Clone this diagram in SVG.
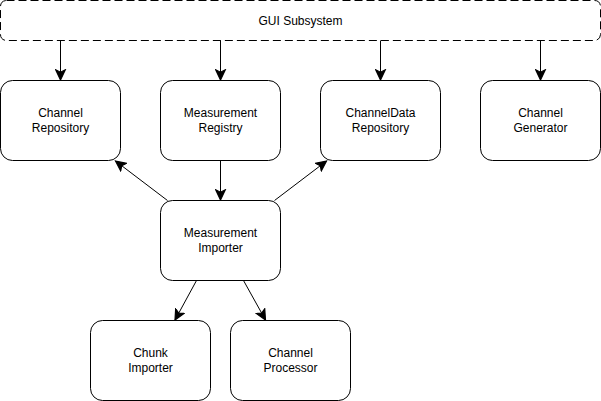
<svg xmlns="http://www.w3.org/2000/svg" width="601" height="401" viewBox="0 0 601 401">
<defs>
<marker id="arr" markerUnits="userSpaceOnUse" markerWidth="12" markerHeight="12" viewBox="0 0 10 9" refX="9" refY="4.5" orient="auto">
<path d="M9,4.5 L0.5,0.5 L2.5,4.5 L0.5,8.5 Z" fill="#000" stroke="#000" stroke-width="1"/>
</marker>
</defs>
<style>
.box{fill:#fff;stroke:#000;stroke-width:1}
.gui{fill:#fff;stroke:#000;stroke-width:1;stroke-dasharray:8 4}
.t{font-family:"Liberation Sans",Arial,Helvetica,sans-serif;font-size:12px;fill:#000;text-anchor:middle}
.c{fill:none;stroke:#000;stroke-width:1;marker-end:url(#arr)}
</style>
<rect width="601" height="401" fill="#fff"/>
<g id="gui">
<rect class="gui" x="0.5" y="0.5" width="600" height="40" rx="6" ry="6"/>
<text class="t" x="300.5" y="24.5">GUI Subsystem</text>
</g>
<g id="channel-repository">
<rect class="box" x="0.5" y="80.5" width="120" height="80" rx="12" ry="12"/>
<text class="t" x="60.5" y="117">Channel</text>
<text class="t" x="60.5" y="131.5">Repository</text>
</g>
<g id="measurement-registry">
<rect class="box" x="160.5" y="80.5" width="120" height="80" rx="12" ry="12"/>
<text class="t" x="220.5" y="117">Measurement</text>
<text class="t" x="220.5" y="131.5">Registry</text>
</g>
<g id="channeldata-repository">
<rect class="box" x="320.5" y="80.5" width="120" height="80" rx="12" ry="12"/>
<text class="t" x="380.5" y="117">ChannelData</text>
<text class="t" x="380.5" y="131.5">Repository</text>
</g>
<g id="channel-generator">
<rect class="box" x="480.5" y="80.5" width="120" height="80" rx="12" ry="12"/>
<text class="t" x="540.5" y="117">Channel</text>
<text class="t" x="540.5" y="131.5">Generator</text>
</g>
<g id="measurement-importer">
<rect class="box" x="160.5" y="200.5" width="120" height="80" rx="12" ry="12"/>
<text class="t" x="220.5" y="237">Measurement</text>
<text class="t" x="220.5" y="251.5">Importer</text>
</g>
<g id="chunk-importer">
<rect class="box" x="90.5" y="320.5" width="120" height="80" rx="12" ry="12"/>
<text class="t" x="150.5" y="357">Chunk</text>
<text class="t" x="150.5" y="371.5">Importer</text>
</g>
<g id="channel-processor">
<rect class="box" x="230.5" y="320.5" width="120" height="80" rx="12" ry="12"/>
<text class="t" x="290.5" y="357">Channel</text>
<text class="t" x="290.5" y="371.5">Processor</text>
</g>
<g id="connectors">
<line class="c" x1="60.5" y1="40.5" x2="60.5" y2="80"/>
<line class="c" x1="220.5" y1="40.5" x2="220.5" y2="80"/>
<line class="c" x1="380.5" y1="40.5" x2="380.5" y2="80"/>
<line class="c" x1="540.5" y1="40.5" x2="540.5" y2="80"/>
<line class="c" x1="220.5" y1="160.5" x2="220.5" y2="200"/>
<line class="c" x1="167.5" y1="200.5" x2="115.5" y2="161"/>
<line class="c" x1="274.5" y1="200.5" x2="326.5" y2="161"/>
<line class="c" x1="196.5" y1="280.5" x2="175" y2="320"/>
<line class="c" x1="243.5" y1="280.5" x2="265.5" y2="320"/>
</g>
</svg>
